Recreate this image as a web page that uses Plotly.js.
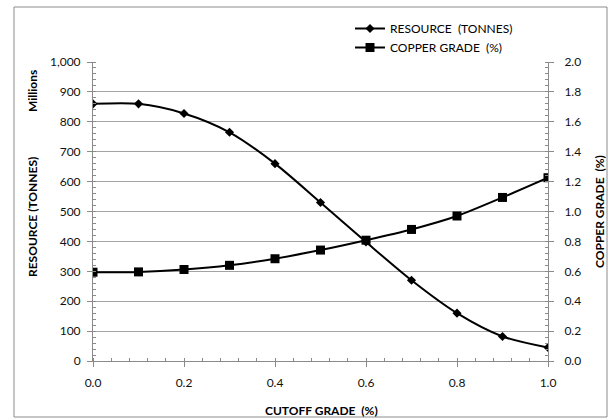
<!DOCTYPE html>
<html>
<head>
<meta charset="utf-8">
<script src="https://cdn.plot.ly/plotly-3.0.1.min.js"></script>
<style>
html,body{margin:0;padding:0;background:#fff;}
#chart{width:610px;height:418px;}
</style>
</head>
<body>
<div id="chart"></div>
<script>
const cutoff = [0.0, 0.1, 0.2, 0.3, 0.4, 0.5, 0.6, 0.7, 0.8, 0.9, 1.0];
const resourceMillions = [860, 860, 828, 765, 660, 530, 398, 270, 160, 82, 45];
const copperGrade = [0.594, 0.596, 0.612, 0.64, 0.684, 0.742, 0.808, 0.88, 0.97, 1.094, 1.226];
const leftTicks = [0, 100, 200, 300, 400, 500, 600, 700, 800, 900, 1000];
const leftTickText = ['0', '100', '200', '300', '400', '500', '600', '700', '800', '900', '1,000'];
const rightTicks = [0, 0.2, 0.4, 0.6, 0.8, 1.0, 1.2, 1.4, 1.6, 1.8, 2.0];
const xTicks = [0, 0.2, 0.4, 0.6, 0.8, 1.0];

const FONT = 'Lato, "Open Sans", sans-serif';
const W = 610, H = 418;
const M = {l: 93, r: 62, t: 62, b: 57};
const pw = W - M.l - M.r, ph = H - M.t - M.b;
function px(x){ return (x - M.l) / pw; }
function py(y){ return (H - M.b - y) / ph; }

const traces = [
  {
    x: cutoff, y: resourceMillions, name: 'RESOURCE  (TONNES)',
    type: 'scatter', mode: 'lines+markers',
    line: {color: '#000', width: 2, shape: 'spline', smoothing: 0.8},
    marker: {symbol: 'diamond', size: 7, color: '#000'},
    yaxis: 'y'
  },
  {
    x: cutoff, y: copperGrade, name: 'COPPER GRADE  (%)',
    type: 'scatter', mode: 'lines+markers',
    line: {color: '#000', width: 2, shape: 'spline', smoothing: 0.8},
    marker: {symbol: 'square', size: 9, color: '#000'},
    yaxis: 'y2'
  }
];

const tickFont = {family: FONT, size: 12, color: '#111'};
const titleFont = {family: FONT, size: 12, color: '#000', weight: 'bold'};
const AX = '#8a8a8a';

const layout = {
  width: W, height: H,
  margin: M,
  paper_bgcolor: '#fff', plot_bgcolor: '#fff',
  font: {family: FONT, color: '#000'},
  showlegend: true,
  legend: {
    x: px(350), y: py(14), xanchor: 'left', yanchor: 'top',
    font: {family: FONT, size: 12, color: '#000'},
    bgcolor: 'rgba(0,0,0,0)', tracegroupgap: 0, itemwidth: 30
  },
  xaxis: {
    range: [0, 1], tickvals: xTicks,
    tickformat: '.1f', tickfont: tickFont,
    showgrid: false, zeroline: false,
    showline: true, linecolor: AX, linewidth: 1,
    ticks: 'outside', ticklen: 5, tickcolor: AX, ticklabelstandoff: 6,
    minor: {dtick: 0.04, ticks: 'inside', ticklen: 3, tickcolor: AX, showgrid: false},
    fixedrange: true
  },
  yaxis: {
    range: [0, 1000], tickvals: leftTicks, ticktext: leftTickText,
    tickfont: tickFont,
    showgrid: true, gridcolor: '#a3a3a3', gridwidth: 1, zeroline: false,
    showline: true, linecolor: AX, linewidth: 1,
    ticks: 'outside', ticklen: 5, tickcolor: AX, ticklabelstandoff: 4,
    minor: {dtick: 20, ticks: 'inside', ticklen: 3, tickcolor: AX, showgrid: false},
    fixedrange: true
  },
  yaxis2: {
    range: [0, 2], overlaying: 'y', side: 'right',
    tickvals: rightTicks, tickformat: '.1f',
    tickfont: tickFont, showgrid: false, zeroline: false,
    showline: true, linecolor: AX, linewidth: 1,
    ticks: 'outside', ticklen: 5, tickcolor: AX, ticklabelstandoff: 8,
    minor: {dtick: 0.04, ticks: 'inside', ticklen: 3, tickcolor: AX, showgrid: false},
    fixedrange: true
  },
  annotations: [
    {text: 'Millions', textangle: -90, xref: 'paper', yref: 'paper',
     x: px(32), y: py(91), xanchor: 'center', yanchor: 'middle', showarrow: false, font: titleFont},
    {text: 'RESOURCE (TONNES)', textangle: -90, xref: 'paper', yref: 'paper',
     x: px(32), y: py(217), xanchor: 'center', yanchor: 'middle', showarrow: false, font: titleFont},
    {text: 'COPPER GRADE  (%)', textangle: -90, xref: 'paper', yref: 'paper',
     x: px(599), y: py(212), xanchor: 'center', yanchor: 'middle', showarrow: false, font: titleFont},
    {text: 'CUTOFF GRADE  (%)', xref: 'paper', yref: 'paper',
     x: px(321), y: py(411), xanchor: 'center', yanchor: 'middle', showarrow: false, font: titleFont}
  ],
  shapes: [
    {type: 'rect', xref: 'paper', yref: 'paper', layer: 'below',
     x0: px(14), x1: px(607), y0: py(417), y1: py(7),
     line: {color: '#8c8c8c', width: 1}}
  ]
};

Plotly.newPlot('chart', traces, layout, {displayModeBar: false, staticPlot: true});
</script>
</body>
</html>
